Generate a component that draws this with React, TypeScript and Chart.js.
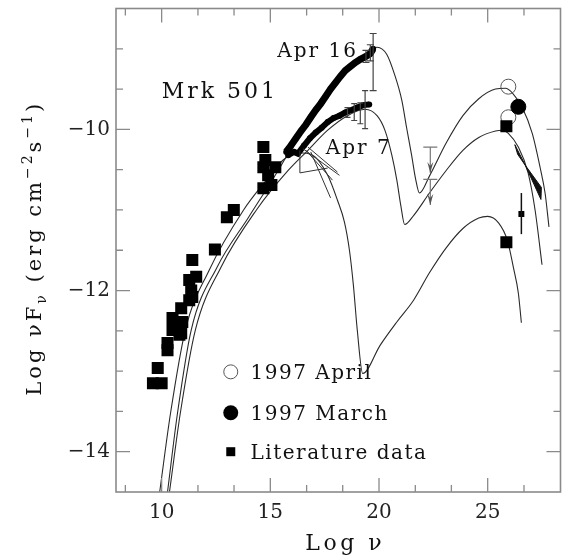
import { useEffect, useRef } from "react";
import { Chart, registerables } from "chart.js";
Chart.register(...registerables);

const FONT = '"DejaVu Serif", serif';

// axis ranges and ticks
const X_MIN = 7.9;
const X_MAX = 28.35;
const Y_MIN = -14.5;
const Y_MAX = -8.5;
const xMajorTicks = [10, 15, 20, 25];
const xMinorTicks = [8.33, 11.67, 13.33, 16.67, 18.33, 21.67, 23.33, 26.67];
const yMajorTicks = [-14, -12, -10];
const yMinorTicks = [-13.5, -13, -12.5, -11.5, -11, -10.5, -9.5, -9];

// literature data (squares)
const literatureData = [
  [14.68, -10.22], [14.77, -10.38], [14.68, -10.47], [15.23, -10.47], [14.9, -10.57],
  [15.05, -10.69], [14.68, -10.73], [13.32, -11.0], [13.0, -11.09], [12.45, -11.49],
  [11.41, -11.62], [11.59, -11.83], [11.27, -11.87], [11.36, -12.0], [11.41, -12.08],
  [11.27, -12.12], [10.9, -12.22], [10.5, -12.34], [10.95, -12.39], [10.5, -12.49],
  [10.9, -12.53], [10.82, -12.55], [10.27, -12.65], [10.27, -12.74], [9.82, -12.96],
  [9.6, -13.15], [10.0, -13.15],
  [25.86, -9.96], [25.86, -11.4],
];
const literatureSmall = [[26.55, -11.05]];
const literatureSmallErr = [[26.55, -10.79, -11.3]];

// 1997 April (open circles) and 1997 March (filled circle)
const april1997 = [[25.95, -9.47], [25.95, -9.85]];
const march1997 = [[26.41, -9.72]];

// Apr 16 and Apr 7 observations
const apr16Points = [
  [15.73, -10.28], [15.95, -10.2], [16.18, -10.11], [16.41, -10.02], [16.64, -9.94],
  [16.86, -9.85], [17.09, -9.76], [17.32, -9.68], [17.55, -9.59], [17.77, -9.5],
  [18.0, -9.42], [18.23, -9.34], [18.45, -9.27], [18.68, -9.22], [18.91, -9.17],
  [19.14, -9.13], [19.36, -9.1], [19.59, -9.06], [19.73, -9.0],
];
const apr16Err = [[19.73, -8.81, -9.52], [19.6, -8.95, -9.15], [19.4, -9.02, -9.17]];
const apr7Points = [
  [15.82, -10.32], [16.09, -10.28], [16.27, -10.3], [16.55, -10.2],
  [16.82, -10.11], [17.09, -10.04], [17.36, -9.98], [17.64, -9.91], [17.91, -9.86],
  [18.18, -9.83], [18.45, -9.79], [18.73, -9.76], [19.0, -9.73], [19.27, -9.7], [19.55, -9.69],
];
const apr7Err = [[18.55, -9.73, -9.85], [18.86, -9.68, -9.89], [19.14, -9.67, -9.93], [19.36, -9.52, -9.99]];

// upper limits
const upperLimits = [[22.36, -10.22], [22.36, -10.62]];
const upperLimitLength = 0.32;

// X-ray / optical bow-tie segments [x1, y1, x2, y2]
const bowtieSegments = [
  [16.36, -10.26, 16.36, -10.54],
  [16.36, -10.54, 17.64, -10.48],
  [16.5, -10.24, 18.18, -10.57],
  [16.73, -10.22, 18.09, -10.53],
  [16.86, -10.28, 17.77, -10.85],
  [16.64, -10.26, 17.86, -10.63],
];
// gamma-ray bow-tie polygons
const gammaBowtie = [
  [[26.25, -10.19], [26.38, -10.31], [26.73, -10.446]],
  [[26.73, -10.446], [27.45, -10.87], [27.47, -10.72]],
];

// model curves
const modelLow = [
  [9.91, -14.5], [10.41, -13.52], [11.09, -12.49], [12.18, -11.75], [13.77, -11.0],
  [14.82, -10.63], [15.59, -10.38], [16.27, -10.29], [16.95, -10.32], [17.64, -10.57],
  [18.09, -10.88], [18.41, -11.15], [18.64, -11.5], [18.82, -11.93], [19.0, -12.49],
  [19.25, -13.03], [20.05, -12.68], [20.82, -12.39], [21.59, -12.12], [22.32, -11.78],
  [23.09, -11.47], [23.86, -11.23], [24.59, -11.1], [25.0, -11.08], [25.5, -11.16],
  [25.91, -11.38], [26.18, -11.71], [26.41, -12.03], [26.55, -12.4],
];
const modelApr16 = [
  [10.27, -14.5], [10.73, -13.52], [11.36, -12.49], [12.55, -11.71], [14.0, -11.09],
  [15.36, -10.51], [17.05, -9.73], [18.55, -9.24], [19.45, -9.07], [19.91, -8.98],
  [20.36, -9.07], [20.73, -9.33], [21.05, -9.64], [21.27, -9.98], [21.5, -10.32],
  [21.68, -10.61], [21.86, -10.79], [22.32, -10.58], [23.09, -10.17], [23.86, -9.83],
  [24.59, -9.62], [25.36, -9.5], [25.82, -9.49], [26.14, -9.55], [26.59, -9.73],
  [27.05, -10.05], [27.41, -10.47], [27.64, -10.79], [27.82, -11.21],
];
const modelApr7 = [
  [10.36, -14.5], [10.86, -13.52], [11.55, -12.49], [12.73, -11.71], [14.36, -11.0],
  [15.82, -10.51], [16.73, -10.26], [17.64, -10.01], [18.55, -9.83], [19.36, -9.75],
  [19.91, -9.83], [20.27, -10.01], [20.59, -10.32], [20.82, -10.63], [21.0, -10.94],
  [21.18, -11.18], [21.59, -11.07], [22.32, -10.79], [23.09, -10.51], [23.86, -10.26],
  [24.59, -10.1], [25.36, -10.02], [25.68, -10.01], [25.95, -10.05], [26.41, -10.22],
  [26.86, -10.54], [27.18, -11.0], [27.5, -11.68],
];

// text annotations (anchored in data coordinates)
const annotations = [
  { text: "Mrk 501", x: 10.0, y: -9.616, size: 22, spacing: 3 },
  { text: "Apr 16", x: 15.32, y: -9.108, size: 20, spacing: 2 },
  { text: "Apr 7", x: 17.55, y: -10.3, size: 20, spacing: 2 },
];
const legendItems = [
  { label: "1997 April", symbol: "open", y: -13.009 },
  { label: "1997 March", symbol: "filled", y: -13.517 },
  { label: "Literature data", symbol: "square", y: -14.0 },
];
const legendSymbolX = 13.18;
const legendTextX = 14.09;

const pts = (a: number[][]) => a.map(([x, y]) => ({ x, y }));

function spaced(ctx: any, text: string, x: number, y: number, size: number, spacing: number, align = "left") {
  ctx.font = `${size}px ${FONT}`;
  ctx.letterSpacing = `${spacing}px`;
  ctx.textAlign = align;
  ctx.fillText(text, x, y);
  ctx.letterSpacing = "0px";
}

const decor = {
  id: "decor",
  afterDatasetsDraw(chart: any) {
    const { ctx, scales } = chart;
    const xs = scales.x, ys = scales.y;
    const px = (v: number) => xs.getPixelForValue(v);
    const py = (v: number) => ys.getPixelForValue(v);
    ctx.save();
    // bow-tie segments
    ctx.strokeStyle = "#333";
    ctx.lineWidth = 1;
    for (const [x1, y1, x2, y2] of bowtieSegments) {
      ctx.beginPath();
      ctx.moveTo(px(x1), py(y1));
      ctx.lineTo(px(x2), py(y2));
      ctx.stroke();
    }
    // gamma bow-tie
    ctx.fillStyle = "#111";
    ctx.strokeStyle = "#111";
    for (const poly of gammaBowtie) {
      ctx.beginPath();
      poly.forEach(([x, y], i) => (i ? ctx.lineTo(px(x), py(y)) : ctx.moveTo(px(x), py(y))));
      ctx.closePath();
      ctx.fill();
      ctx.stroke();
    }
    // error bars
    const bars = (list: number[][], cap: number, color: string) => {
      ctx.strokeStyle = color;
      for (const [x, hi, lo] of list) {
        const X = px(x), Y1 = py(hi), Y2 = py(lo);
        ctx.beginPath();
        ctx.moveTo(X, Y1); ctx.lineTo(X, Y2);
        ctx.moveTo(X - cap, Y1); ctx.lineTo(X + cap, Y1);
        ctx.moveTo(X - cap, Y2); ctx.lineTo(X + cap, Y2);
        ctx.stroke();
      }
    };
    ctx.lineWidth = 1.2;
    bars(apr16Err, 3.5, "#444");
    bars(apr7Err, 3, "#444");
    ctx.lineWidth = 1.5;
    bars(literatureSmallErr, 0, "#111");
    // upper limits
    ctx.strokeStyle = "#777";
    ctx.fillStyle = "#555";
    ctx.lineWidth = 1.2;
    for (const [x, y] of upperLimits) {
      const X = px(x), Y = py(y), Yt = py(y - upperLimitLength);
      ctx.beginPath();
      ctx.moveTo(X - 7, Y); ctx.lineTo(X + 7, Y);
      ctx.moveTo(X, Y); ctx.lineTo(X, Yt);
      ctx.stroke();
      ctx.beginPath();
      ctx.moveTo(X, Yt); ctx.lineTo(X - 3, Yt - 11); ctx.lineTo(X, Yt - 7); ctx.lineTo(X + 3, Yt - 11);
      ctx.closePath();
      ctx.fill();
    }
    ctx.restore();
  },
  afterDraw(chart: any) {
    const { ctx, chartArea: a, scales } = chart;
    const xs = scales.x, ys = scales.y;
    const px = (v: number) => xs.getPixelForValue(v);
    const py = (v: number) => ys.getPixelForValue(v);
    ctx.save();
    // frame
    ctx.strokeStyle = "#8a8a8a";
    ctx.lineWidth = 1.6;
    ctx.strokeRect(a.left, a.top, a.right - a.left, a.bottom - a.top);
    // ticks (inward, all four sides)
    ctx.lineWidth = 1.3;
    const xt = (v: number, len: number) => {
      const X = px(v);
      ctx.beginPath();
      ctx.moveTo(X, a.bottom); ctx.lineTo(X, a.bottom - len);
      ctx.moveTo(X, a.top); ctx.lineTo(X, a.top + len);
      ctx.stroke();
    };
    const yt = (v: number, len: number) => {
      const Y = py(v);
      ctx.beginPath();
      ctx.moveTo(a.left, Y); ctx.lineTo(a.left + len, Y);
      ctx.moveTo(a.right, Y); ctx.lineTo(a.right - len, Y);
      ctx.stroke();
    };
    xMajorTicks.forEach((v) => xt(v, 14));
    xMinorTicks.forEach((v) => xt(v, 7));
    yMajorTicks.forEach((v) => yt(v, 14));
    yMinorTicks.forEach((v) => yt(v, 7));

    // annotations
    ctx.fillStyle = "#111";
    ctx.textBaseline = "alphabetic";
    for (const t of annotations) spaced(ctx, t.text, px(t.x), py(t.y), t.size, t.spacing);

    // legend
    for (const item of legendItems) {
      const X = px(legendSymbolX), Y = py(item.y);
      ctx.beginPath();
      if (item.symbol === "open") {
        ctx.strokeStyle = "#555"; ctx.lineWidth = 1;
        ctx.arc(X, Y, 7, 0, Math.PI * 2); ctx.stroke();
      } else if (item.symbol === "filled") {
        ctx.fillStyle = "#000";
        ctx.arc(X, Y, 7.5, 0, Math.PI * 2); ctx.fill();
      } else {
        ctx.fillStyle = "#000";
        ctx.fillRect(X - 4.5, Y - 4.5, 9, 9);
      }
      ctx.fillStyle = "#111";
      spaced(ctx, item.label, px(legendTextX), Y + 7, 20, 1.5);
    }

    // x title
    spaced(ctx, "Log \u03bd", (a.left + a.right) / 2 + 7, 550, 22, 3.5, "center");

    // y title with sub/superscripts
    const pieces: [string, number, number][] = [
      ["Log ", 21, 0], ["\u03bdF", 21, 0], ["\u03bd", 14, 5], [" (erg cm", 21, 0],
      ["\u22122", 14, -9], ["s", 21, 0], ["\u22121", 14, -9], [")", 21, 0],
    ];
    ctx.textAlign = "left";
    let total = 0;
    for (const [s, size] of pieces) {
      ctx.font = `${size}px ${FONT}`;
      ctx.letterSpacing = "3px";
      total += ctx.measureText(s).width;
    }
    ctx.translate(41, (a.top + a.bottom) / 2 + total / 2 - 2);
    ctx.rotate(-Math.PI / 2);
    let cx = 0;
    for (const [s, size, dy] of pieces) {
      ctx.font = `${size}px ${FONT}`;
      ctx.letterSpacing = "3px";
      ctx.fillText(s, cx, dy);
      cx += ctx.measureText(s).width;
    }
    ctx.letterSpacing = "0px";
    ctx.restore();
  },
};

export default function App() {
  const ref = useRef<HTMLCanvasElement>(null);
  useEffect(() => {
    const curve = (label: string, data: number[][]) => ({
      type: "line",
      label,
      data: pts(data),
      borderColor: "#2a2a2a",
      borderWidth: 1.1,
      pointRadius: 0,
      fill: false,
      cubicInterpolationMode: "monotone",
    });
    const chart = new Chart(ref.current as HTMLCanvasElement, {
      type: "scatter",
      data: {
        datasets: [
          { label: "Literature data", data: pts(literatureData), pointStyle: "rect", pointRadius: 8.5, backgroundColor: "#000", borderWidth: 0 },
          { label: "Literature small", data: pts(literatureSmall), pointStyle: "rect", pointRadius: 4.2, backgroundColor: "#000", borderWidth: 0 },
          { label: "1997 March", data: pts(march1997), pointStyle: "circle", pointRadius: 7.5, backgroundColor: "#000", borderColor: "#000", borderWidth: 1 },
          { label: "1997 April", data: pts(april1997), pointStyle: "circle", pointRadius: 7.5, backgroundColor: "rgba(255,255,255,0)", borderColor: "#555", borderWidth: 1 },
          { label: "Apr 16", data: pts(apr16Points), showLine: true, borderColor: "#000", borderWidth: 7, pointStyle: "circle", pointRadius: 3, backgroundColor: "#000", pointBorderWidth: 0 },
          { label: "Apr 7", data: pts(apr7Points), showLine: true, borderColor: "#000", borderWidth: 6, pointStyle: "circle", pointRadius: 3, backgroundColor: "#000", pointBorderWidth: 0 },
          curve("Model Apr 16", modelApr16),
          curve("Model Apr 7", modelApr7),
          curve("Model low", modelLow),
        ] as any,
      },
      options: {
        responsive: false,
        animation: false,
        devicePixelRatio: 1,
        events: [],
        layout: { padding: { left: 0, right: 3, top: 8, bottom: 0 } },
        plugins: { legend: { display: false }, tooltip: { enabled: false } },
        scales: {
          x: {
            type: "linear",
            min: X_MIN,
            max: X_MAX,
            grid: { display: false, drawTicks: false },
            border: { display: false },
            ticks: { font: { family: FONT, size: 20 }, color: "#222", padding: 9, maxRotation: 0, autoSkip: false },
            afterBuildTicks: (s: any) => { s.ticks = xMajorTicks.map((v) => ({ value: v })); },
            afterFit: (s: any) => { s.height = 63; s.paddingLeft = 0; s.paddingRight = 0; },
          },
          y: {
            type: "linear",
            min: Y_MIN,
            max: Y_MAX,
            grid: { display: false, drawTicks: false },
            border: { display: false },
            ticks: {
              font: { family: FONT, size: 20 }, color: "#222", padding: 6, autoSkip: false,
              callback: (v: any) => "\u2212" + Math.abs(Number(v)),
            },
            afterBuildTicks: (s: any) => { s.ticks = yMajorTicks.map((v) => ({ value: v })); },
            afterFit: (s: any) => { s.width = 116; s.paddingTop = 0; s.paddingBottom = 0; },
          },
        },
      } as any,
      plugins: [decor],
    });
    return () => chart.destroy();
  }, []);
  return (
    <div style={{ position: "absolute", left: 0, top: 0, width: 569, height: 555, background: "#fff" }}>
      <canvas ref={ref} width={569} height={555} style={{ display: "block", width: 569, height: 555 }} />
    </div>
  );
}
